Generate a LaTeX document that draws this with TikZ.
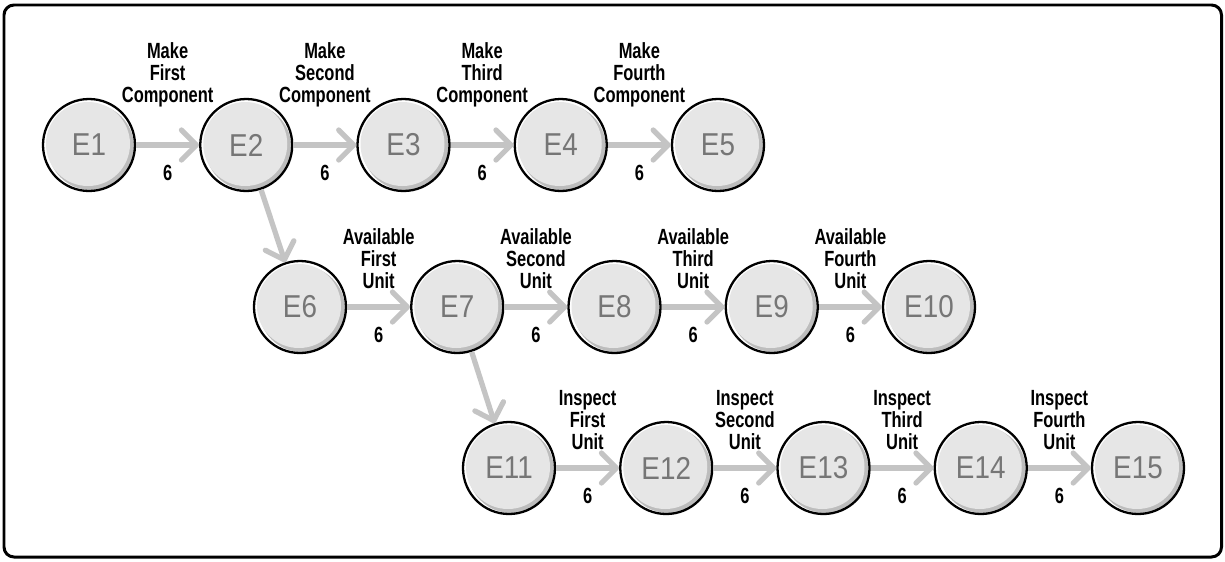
\documentclass[tikz,border=0pt]{standalone}
\usepackage{fontspec}
\setmainfont{Liberation Sans}[FakeStretch=0.85]
\newfontfamily\eventfont{Liberation Sans}[FakeStretch=0.88]
\newfontfamily\taskfont{Liberation Sans}[FakeStretch=0.75]
\usepackage{xcolor}
\usepackage{tikz}
\usetikzlibrary{arrows.meta}

\definecolor{discgray}{HTML}{E6E6E6}
\definecolor{rimgray}{HTML}{BDBDBD}
\definecolor{labelgray}{HTML}{767676}
\definecolor{flowgray}{HTML}{C4C4C4}

\begin{document}
\begin{tikzpicture}[
    event/.style={circle, draw=black, line width=1.3pt, fill=white,
        minimum size=1.84cm, inner sep=0pt, text=labelgray,
        font=\eventfont\fontsize{18}{20}\selectfont,
        path picture={
            \fill[rimgray] ([shift={(0.04cm,-0.04cm)}]path picture bounding box.center) circle (0.86cm);
            \fill[discgray] ([shift={(-0.02cm,0.02cm)}]path picture bounding box.center) circle (0.84cm);
        }},
    flow/.style={line width=3pt, flowgray, line join=round,
        -{Straight Barb[length=3mm, width=6mm, line cap=round, line join=round]}},
    task/.style={black, font=\taskfont\bfseries\fontsize{12.5}{12.5}\selectfont, align=center},
    dur/.style={black, font=\taskfont\bfseries\fontsize{12.5}{12.5}\selectfont}
]
    \useasboundingbox (0,0) rectangle (24.5,-11.22);

    % Outer frame
    \draw[line width=1.7pt, rounded corners=0.2cm] (0.08,-0.1) rectangle (24.43,-11.14);

    % Making the components
    \node[event] (e1) at (1.78,-2.9) {E1};
    \node[event] (e2) at (4.925,-2.9) {E2};
    \node[event] (e3) at (8.07,-2.9) {E3};
    \node[event] (e4) at (11.215,-2.9) {E4};
    \node[event] (e5) at (14.36,-2.9) {E5};

    % Units becoming available
    \node[event] (e6) at (6.0,-6.14) {E6};
    \node[event] (e7) at (9.145,-6.14) {E7};
    \node[event] (e8) at (12.29,-6.14) {E8};
    \node[event] (e9) at (15.435,-6.14) {E9};
    \node[event] (e10) at (18.58,-6.14) {E10};

    % Inspection of the units
    \node[event] (e11) at (10.18,-9.36) {E11};
    \node[event] (e12) at (13.325,-9.36) {E12};
    \node[event] (e13) at (16.47,-9.36) {E13};
    \node[event] (e14) at (19.615,-9.36) {E14};
    \node[event] (e15) at (22.76,-9.36) {E15};

    % First row of activities
    \draw[flow] (e1) -- (e2)
        node[midway, yshift=1.40cm, task] {Make\\First\\Component}
        node[midway, yshift=-0.56cm, dur] {6};
    \draw[flow] (e2) -- (e3)
        node[midway, yshift=1.40cm, task] {Make\\Second\\Component}
        node[midway, yshift=-0.56cm, dur] {6};
    \draw[flow] (e3) -- (e4)
        node[midway, yshift=1.40cm, task] {Make\\Third\\Component}
        node[midway, yshift=-0.56cm, dur] {6};
    \draw[flow] (e4) -- (e5)
        node[midway, yshift=1.40cm, task] {Make\\Fourth\\Component}
        node[midway, yshift=-0.56cm, dur] {6};

    % Second row of activities
    \draw[flow] (e2) -- (e6);
    \draw[flow] (e6) -- (e7)
        node[midway, yshift=0.96cm, task] {Available\\First\\Unit}
        node[midway, yshift=-0.56cm, dur] {6};
    \draw[flow] (e7) -- (e8)
        node[midway, yshift=0.96cm, task] {Available\\Second\\Unit}
        node[midway, yshift=-0.56cm, dur] {6};
    \draw[flow] (e8) -- (e9)
        node[midway, yshift=0.96cm, task] {Available\\Third\\Unit}
        node[midway, yshift=-0.56cm, dur] {6};
    \draw[flow] (e9) -- (e10)
        node[midway, yshift=0.96cm, task] {Available\\Fourth\\Unit}
        node[midway, yshift=-0.56cm, dur] {6};

    % Third row of activities
    \draw[flow] (e7) -- (e11);
    \draw[flow] (e11) -- (e12)
        node[midway, yshift=0.96cm, task] {Inspect\\First\\Unit}
        node[midway, yshift=-0.56cm, dur] {6};
    \draw[flow] (e12) -- (e13)
        node[midway, yshift=0.96cm, task] {Inspect\\Second\\Unit}
        node[midway, yshift=-0.56cm, dur] {6};
    \draw[flow] (e13) -- (e14)
        node[midway, yshift=0.96cm, task] {Inspect\\Third\\Unit}
        node[midway, yshift=-0.56cm, dur] {6};
    \draw[flow] (e14) -- (e15)
        node[midway, yshift=0.96cm, task] {Inspect\\Fourth\\Unit}
        node[midway, yshift=-0.56cm, dur] {6};
\end{tikzpicture}
\end{document}
